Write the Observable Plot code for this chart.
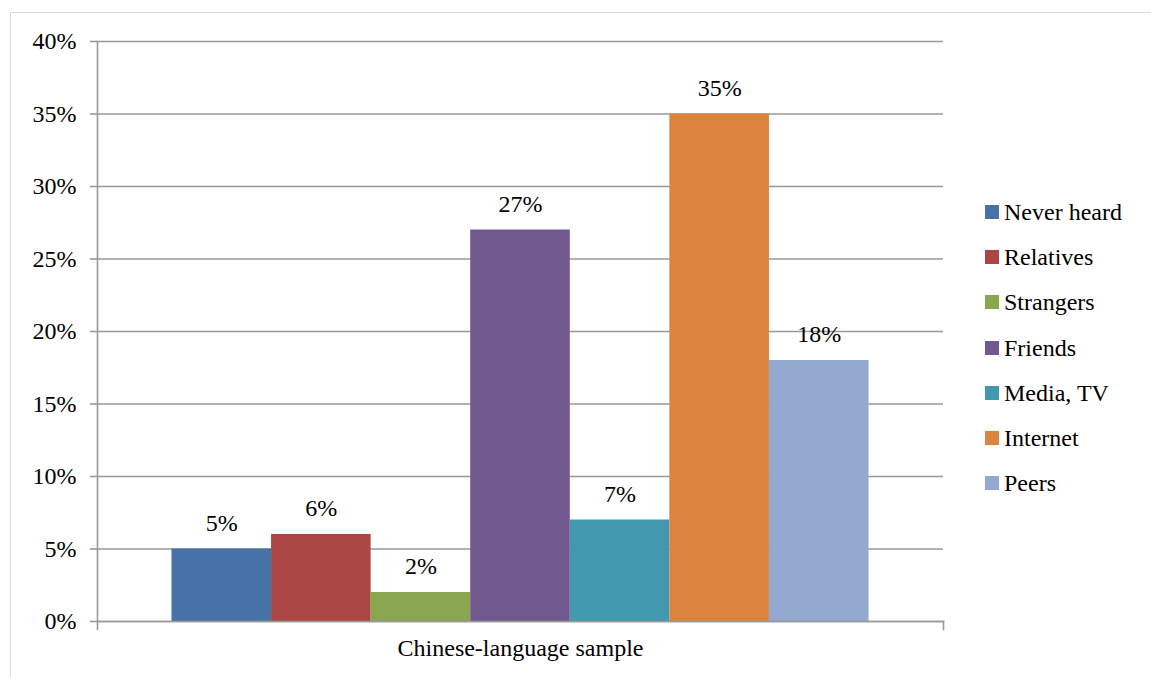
<!DOCTYPE html>
<html>
<head>
<meta charset="utf-8">
<script src="https://cdn.jsdelivr.net/npm/d3@7"></script>
<script src="https://cdn.jsdelivr.net/npm/@observablehq/plot@0.6"></script>
<style>
  body { margin: 0; background: #fff; font-family: "Times New Roman", Times, Tinos, "Noto Serif", "Liberation Serif", "DejaVu Serif", serif; }
  #wrap { position: relative; width: 1151px; height: 677px; overflow: hidden; }
  #border { position: absolute; left: 10px; top: 12px; width: 1160px; height: 680px; border: 1px solid #d9d9d9; box-sizing: border-box; }
  #chart { position: absolute; left: 0; top: 0; }
  #chart svg, #chart text { font-family: "Times New Roman", Times, Tinos, "Noto Serif", "Liberation Serif", "DejaVu Serif", serif !important; }
  #legend { position: absolute; left: 985px; top: 199px; }
  .item { position: absolute; left: 0; height: 26px; white-space: nowrap; font-size: 24px; color: #000; line-height: 26px; }
  .sw { position: absolute; left: 0; top: 6px; width: 14px; height: 14px; }
  .lab { position: absolute; left: 19px; top: 0; }
</style>
</head>
<body>
<div id="wrap">
  <div id="border"></div>
  <div id="chart"></div>
  <div id="legend"></div>
</div>
<script>
// Source of first hearing about the topic, Chinese-language sample
const category = "Chinese-language sample";
const sources = ["Never heard", "Relatives", "Strangers", "Friends", "Media, TV", "Internet", "Peers"];
const shares = [0.05, 0.06, 0.02, 0.27, 0.07, 0.35, 0.18];
const colors = ["#4672A8", "#AA4744", "#8AA64E", "#71588F", "#4298AF", "#DB843D", "#93A9CF"];
const yTicks = [0, 0.05, 0.10, 0.15, 0.20, 0.25, 0.30, 0.35, 0.40];

const rows = sources.map((s, i) => ({source: s, share: shares[i]}));
const pct = d3.format(".0%");

const chart = Plot.plot({
  width: 1151,
  height: 677,
  marginLeft: 97,
  marginRight: 208,
  marginTop: 41,
  marginBottom: 56,
  style: {fontSize: "24px", color: "#000", background: "transparent"},
  x: {type: "band", domain: sources, paddingInner: 0, paddingOuter: 0.748, round: false, axis: null},
  y: {domain: [0, 0.4], ticks: yTicks},
  color: {domain: sources, range: colors},
  marks: [
    Plot.gridY(yTicks, {stroke: "#999", strokeOpacity: 1, strokeWidth: 1.6}),
    Plot.barY(rows, {x: "source", y: "share", fill: "source"}),
    Plot.frame({anchor: "left", stroke: "#999", strokeWidth: 1.6, insetBottom: -8}),
    Plot.frame({anchor: "bottom", stroke: "#999", strokeWidth: 1.6}),
    Plot.frame({anchor: "right", stroke: "#999", strokeWidth: 1.6, insetTop: 580, insetBottom: -8}),
    Plot.axisY(yTicks, {tickSize: 7, tickPadding: 14, tickFormat: pct, stroke: "#999", strokeWidth: 1.6, fontSize: 24, fill: "#000", label: null}),
    Plot.text(rows, {x: "source", y: "share", text: d => pct(d.share), dy: -26, fontSize: 24, fill: "#000"}),
    Plot.text([category], {frameAnchor: "bottom", dy: 34, fontSize: 24, fill: "#000"})
  ]
});
document.getElementById("chart").appendChild(chart);

// Legend entries, one per source
const legend = document.getElementById("legend");
sources.forEach((s, i) => {
  const item = document.createElement("div");
  item.className = "item";
  item.style.top = (i * 45.2) + "px";
  const sw = document.createElement("span");
  sw.className = "sw";
  sw.style.background = colors[i];
  const lab = document.createElement("span");
  lab.className = "lab";
  lab.textContent = s;
  item.appendChild(sw);
  item.appendChild(lab);
  legend.appendChild(item);
});
</script>
</body>
</html>
